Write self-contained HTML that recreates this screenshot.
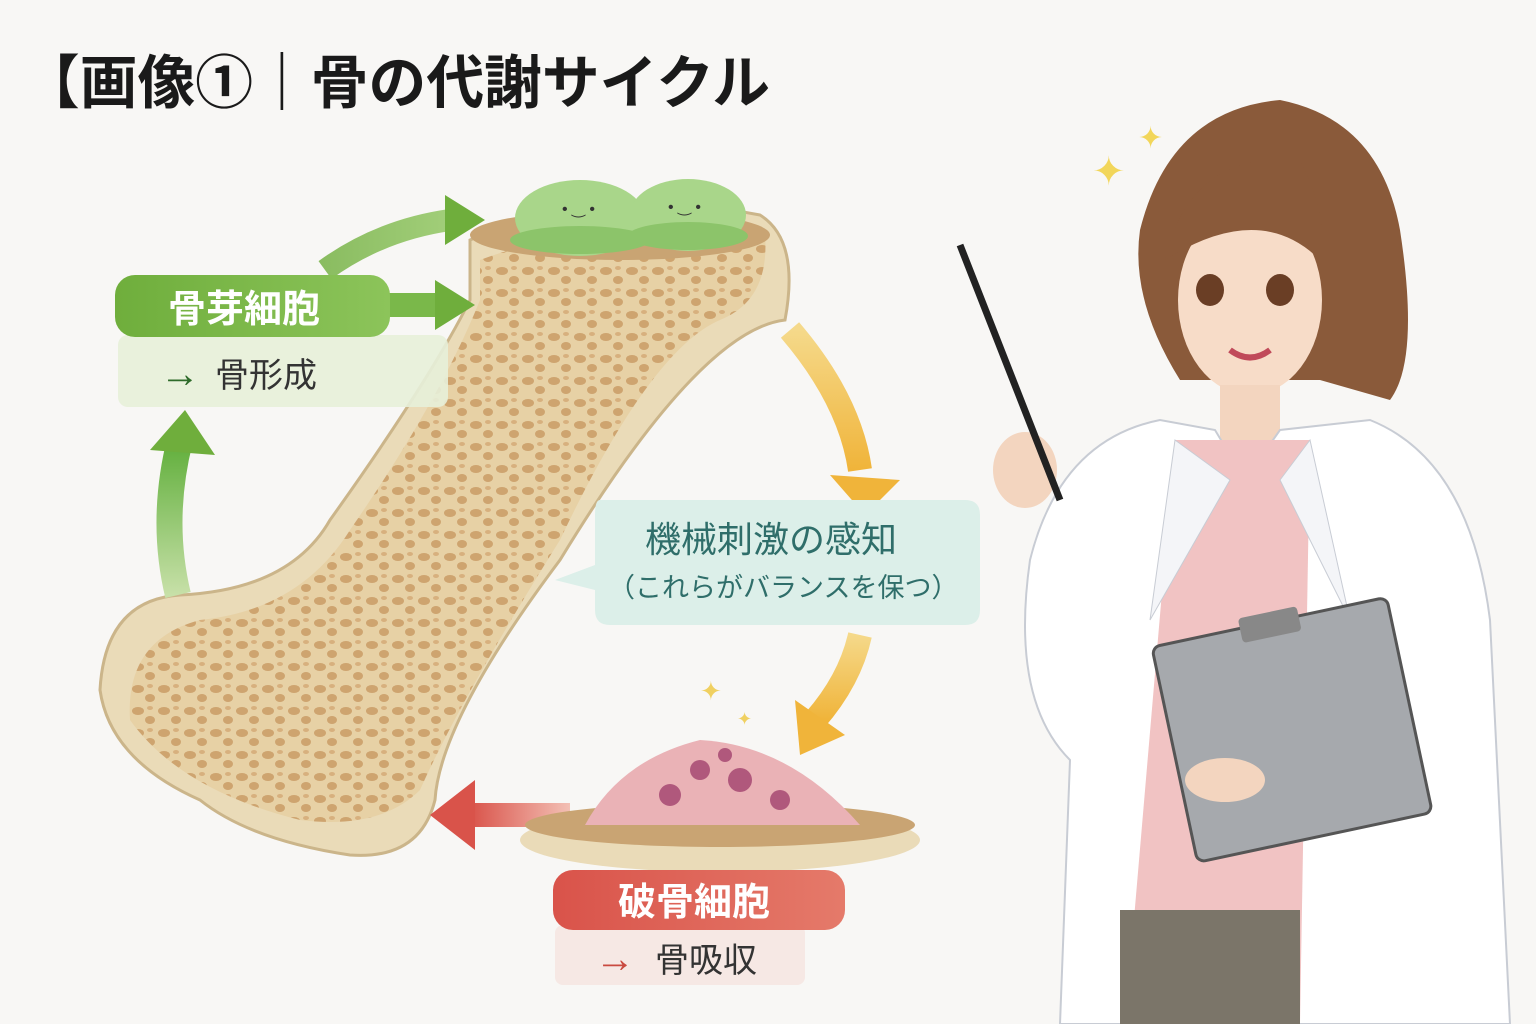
<!DOCTYPE html>
<html><head><meta charset="utf-8">
<style>
html,body{margin:0;padding:0;background:#f8f7f5;}
svg{display:block}
text{font-family:"Liberation Sans","Noto Sans CJK JP",sans-serif;}
</style></head><body>
<svg width="1536" height="1024" viewBox="0 0 1536 1024" xmlns="http://www.w3.org/2000/svg">
<defs>
<linearGradient id="gl" x1="0" x2="1"><stop offset="0" stop-color="#6fae3c"/><stop offset="1" stop-color="#8cc45a"/></linearGradient>
<linearGradient id="rl" x1="0" x2="1"><stop offset="0" stop-color="#d9534a"/><stop offset="1" stop-color="#e57a6a"/></linearGradient>
<linearGradient id="ya" x1="0" y1="0" x2="0" y2="1"><stop offset="0" stop-color="#f5d98a"/><stop offset="1" stop-color="#f0b43a"/></linearGradient>
<linearGradient id="ga" x1="0" y1="1" x2="0" y2="0"><stop offset="0" stop-color="#c7e0a8"/><stop offset="1" stop-color="#5fae3a"/></linearGradient>
<linearGradient id="ra" x1="1" x2="0"><stop offset="0" stop-color="#f3c0b5"/><stop offset="1" stop-color="#d9534a"/></linearGradient>
<pattern id="sp" width="26" height="22" patternUnits="userSpaceOnUse">
<rect width="26" height="22" fill="#e6cfa2"/>
<ellipse cx="8" cy="7" rx="6" ry="4" fill="#c99a62"/>
<ellipse cx="20" cy="16" rx="5" ry="4" fill="#c99a62"/>
<ellipse cx="20" cy="4" rx="3" ry="2" fill="#d4a874"/>
</pattern>
</defs>
<rect width="1536" height="1024" fill="#f8f7f5"/>
<text x="22" y="103" font-size="58" font-weight="bold" fill="#1a1a1a" textLength="748" lengthAdjust="spacingAndGlyphs">【画像①｜骨の代謝サイクル</text>

<path d="M470 240 Q600 185 760 215 Q800 240 785 320 Q700 330 560 560 Q440 720 435 800 Q420 860 350 855 Q250 840 200 800 Q110 760 100 690 Q105 600 180 595 Q290 590 330 520 Q430 380 470 300 Z" fill="#eadbb8" stroke="#cbb58a" stroke-width="3"/>
<path d="M480 260 Q600 215 765 235 Q770 300 720 320 Q650 350 560 540 Q460 700 420 790 Q380 830 300 820 Q180 790 130 720 Q125 640 200 620 Q300 610 350 530 Q440 400 480 300 Z" fill="url(#sp)" opacity="0.85"/>
<ellipse cx="620" cy="235" rx="150" ry="25" fill="#c9a473"/>
<ellipse cx="580" cy="218" rx="65" ry="38" fill="#a9d68a"/>
<ellipse cx="688" cy="215" rx="58" ry="36" fill="#a9d68a"/>
<ellipse cx="580" cy="240" rx="70" ry="14" fill="#8cc46a"/>
<ellipse cx="688" cy="236" rx="60" ry="14" fill="#8cc46a"/>
<text x="562" y="214" font-size="16" fill="#333">• ‿ •</text>
<text x="668" y="212" font-size="16" fill="#333">• ‿ •</text>

<path d="M325 270 Q380 230 450 220" stroke="url(#gl)" stroke-width="22" fill="none" opacity="0.8"/>
<polygon points="445,195 485,220 445,245" fill="#6fae3c"/>
<rect x="385" y="293" width="55" height="24" fill="#7ab84a"/>
<polygon points="435,280 475,305 435,330" fill="#6fae3c"/>
<path d="M178 595 Q160 520 180 440" stroke="url(#ga)" stroke-width="26" fill="none"/>
<polygon points="150,450 185,410 215,455" fill="#6fae3c"/>

<rect x="118" y="335" width="330" height="72" rx="10" fill="#e7efd9" opacity="0.9"/>
<rect x="115" y="275" width="275" height="62" rx="20" fill="url(#gl)"/>
<text x="168" y="322" font-size="38" font-weight="bold" fill="#fff">骨芽細胞</text>
<text x="160" y="387" font-size="40" fill="#2e6b2a">→</text>
<text x="215" y="387" font-size="34" fill="#333">骨形成</text>

<path d="M790 330 Q850 400 860 470" stroke="url(#ya)" stroke-width="24" fill="none"/>
<polygon points="830,475 900,480 865,515" fill="#f0b43a"/>
<path d="M860 635 Q850 680 815 720" stroke="url(#ya)" stroke-width="24" fill="none"/>
<polygon points="795,700 800,755 845,735" fill="#f0b43a"/>

<path d="M600 500 H965 Q980 500 980 515 V610 Q980 625 965 625 H610 Q595 625 595 610 V590 L555 580 L595 565 V515 Q595 500 600 500Z" fill="#dcefe9"/>
<text x="645" y="552" font-size="36" fill="#2f6e6a">機械刺激の感知</text>
<text x="608" y="597" font-size="27" fill="#2f6e6a">（これらがバランスを保つ）</text>

<rect x="470" y="803" width="100" height="24" fill="url(#ra)"/>
<polygon points="475,780 430,815 475,850" fill="#d9534a"/>
<ellipse cx="720" cy="840" rx="200" ry="32" fill="#eadbb8"/>
<ellipse cx="720" cy="825" rx="195" ry="22" fill="#c9a473"/>
<path d="M585 825 Q620 760 700 740 Q790 745 860 825 Z" fill="#eab2b6"/>
<circle cx="700" cy="770" r="10" fill="#b0587c"/><circle cx="740" cy="780" r="12" fill="#b0587c"/>
<circle cx="670" cy="795" r="11" fill="#b0587c"/><circle cx="780" cy="800" r="10" fill="#b0587c"/><circle cx="725" cy="755" r="7" fill="#b0587c"/>

<rect x="555" y="925" width="250" height="60" rx="8" fill="#f5e5e2" opacity="0.9"/>
<rect x="553" y="870" width="292" height="60" rx="20" fill="url(#rl)"/>
<text x="618" y="915" font-size="38" font-weight="bold" fill="#fff">破骨細胞</text>
<text x="595" y="972" font-size="40" fill="#c94a40">→</text>
<text x="655" y="972" font-size="34" fill="#333">骨吸収</text>

<text x="700" y="700" font-size="26" fill="#f0d060">✦</text>
<text x="737" y="725" font-size="18" fill="#f0d060">✦</text>
<text x="1092" y="185" font-size="40" fill="#f2d65a">✦</text>
<text x="1138" y="148" font-size="30" fill="#f2d65a">✦</text>

<path d="M1140 230 Q1170 110 1280 100 Q1380 120 1400 230 Q1420 360 1390 400 L1320 380 L1180 380 Q1130 300 1140 230Z" fill="#8a5a3a"/>
<ellipse cx="1250" cy="300" rx="72" ry="95" fill="#f7dcc8"/>
<path d="M1165 260 Q1190 150 1300 160 Q1330 220 1320 260 Q1260 200 1165 260Z" fill="#8a5a3a"/>
<ellipse cx="1210" cy="290" rx="14" ry="16" fill="#6a3e25"/><ellipse cx="1280" cy="290" rx="14" ry="16" fill="#6a3e25"/>
<path d="M1230 350 Q1250 365 1270 350" stroke="#c04a5a" stroke-width="6" fill="none"/>
<rect x="1220" y="385" width="60" height="60" fill="#f3d5bf"/>
<path d="M1030 560 Q1060 440 1160 420 L1215 430 L1245 480 L1280 430 L1370 420 Q1470 460 1490 620 L1510 1024 H1060 L1070 760 Q1010 700 1030 560Z" fill="#ffffff" stroke="#c8ccd4" stroke-width="2"/>
<path d="M1175 440 L1310 440 L1300 1024 H1125 Z" fill="#f1c3c3"/>
<path d="M1175 440 L1150 620 L1230 480 Z M1310 440 L1350 620 L1280 480 Z" fill="#f4f5f8" stroke="#c8ccd4"/>
<rect x="1120" y="910" width="180" height="114" fill="#7b7569"/>
<g transform="rotate(-12 1290 720)"><rect x="1170" y="620" width="240" height="220" rx="8" fill="#a6a9ad" stroke="#555" stroke-width="3"/><rect x="1260" y="610" width="60" height="25" rx="4" fill="#888"/></g>
<ellipse cx="1225" cy="780" rx="40" ry="22" fill="#f3d5bf"/>
<ellipse cx="1025" cy="470" rx="32" ry="38" fill="#f3d5bf"/>
<line x1="960" y1="245" x2="1060" y2="500" stroke="#222" stroke-width="7"/>
</svg>
</body></html>
